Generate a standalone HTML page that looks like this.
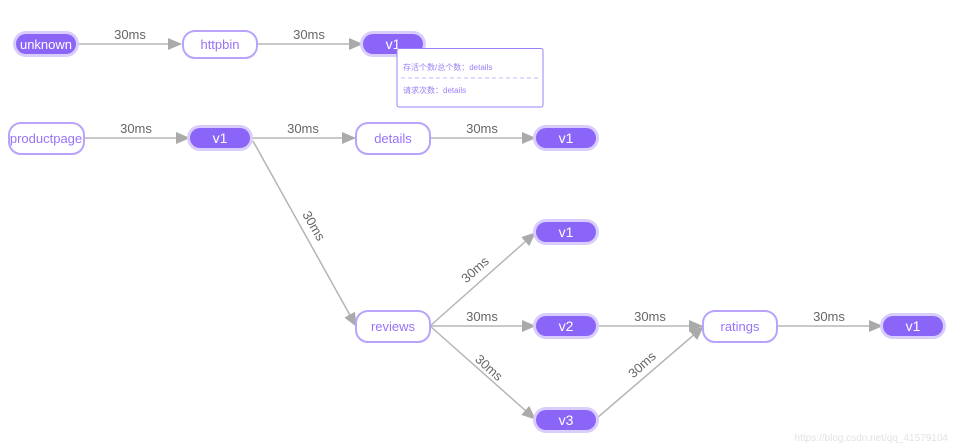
<!DOCTYPE html>
<html><head><meta charset="utf-8"><style>
html,body{margin:0;padding:0;background:#fff;width:954px;height:445px;overflow:hidden}
svg{display:block}
text{font-family:"Liberation Sans","Noto Sans CJK SC",sans-serif}
</style></head><body>
<svg width="954" height="445" viewBox="0 0 954 445" xmlns="http://www.w3.org/2000/svg">
<defs>
<marker id="a" markerWidth="14" markerHeight="12" refX="13" refY="6" orient="auto" markerUnits="userSpaceOnUse">
<path d="M0,0 L14,6 L0,12 Z" fill="#aaa"/></marker>
</defs>
<g stroke="#b5b5b5" stroke-width="1.5" fill="none" marker-end="url(#a)">
<line x1="76" y1="44" x2="181" y2="44"/>
<line x1="257" y1="44" x2="362" y2="44"/>
<line x1="84" y1="138" x2="189" y2="138"/>
<line x1="250" y1="138" x2="355" y2="138"/>
<line x1="430" y1="138" x2="535" y2="138"/>
<line x1="253" y1="141" x2="356" y2="326"/>
<line x1="430" y1="326" x2="535" y2="233"/>
<line x1="430" y1="326" x2="535" y2="326"/>
<line x1="430" y1="326" x2="535" y2="419"/>
<line x1="596" y1="326" x2="702" y2="326"/>
<line x1="597" y1="418" x2="703" y2="327"/>
<line x1="777" y1="326" x2="882" y2="326"/>
</g>
<g font-size="13" fill="#666" text-anchor="middle">
<text x="130" y="39">30ms</text>
<text x="309" y="39">30ms</text>
<text x="136" y="133">30ms</text>
<text x="303" y="133">30ms</text>
<text x="482" y="133">30ms</text>
<text x="482" y="321">30ms</text>
<text x="650" y="321">30ms</text>
<text x="829" y="321">30ms</text>
<text transform="translate(310,228) rotate(60)">30ms</text>
<text transform="translate(478,273) rotate(-42)">30ms</text>
<text transform="translate(486,371) rotate(42)">30ms</text>
<text transform="translate(645,368) rotate(-42)">30ms</text>
</g>
<g>
<g fill="#d9cdfc">
<rect x="13" y="31" width="66" height="26" rx="13"/>
<rect x="360" y="31" width="66" height="26" rx="13"/>
<rect x="187" y="125" width="66" height="26" rx="13"/>
<rect x="533" y="125" width="66" height="26" rx="13"/>
<rect x="533" y="219" width="66" height="26" rx="13"/>
<rect x="533" y="313" width="66" height="26" rx="13"/>
<rect x="533" y="407" width="66" height="26" rx="13"/>
<rect x="880" y="313" width="66" height="26" rx="13"/>
</g>
<g fill="#8a65f8">
<rect x="16" y="34" width="60" height="20" rx="10"/>
<rect x="363" y="34" width="60" height="20" rx="10"/>
<rect x="190" y="128" width="60" height="20" rx="10"/>
<rect x="536" y="128" width="60" height="20" rx="10"/>
<rect x="536" y="222" width="60" height="20" rx="10"/>
<rect x="536" y="316" width="60" height="20" rx="10"/>
<rect x="536" y="410" width="60" height="20" rx="10"/>
<rect x="883" y="316" width="60" height="20" rx="10"/>
</g>
<g fill="#fff" font-size="14" text-anchor="middle">
<text x="46" y="49" font-size="13">unknown</text>
<text x="393" y="49">v1</text>
<text x="220" y="143">v1</text>
<text x="566" y="143">v1</text>
<text x="566" y="237">v1</text>
<text x="566" y="331">v2</text>
<text x="566" y="425">v3</text>
<text x="913" y="331">v1</text>
</g>
<g fill="#fff" stroke="#b9a3fb" stroke-width="2">
<rect x="183" y="31" width="74" height="27" rx="12"/>
<rect x="9" y="123" width="75" height="31" rx="12"/>
<rect x="356" y="123" width="74" height="31" rx="12"/>
<rect x="356" y="311" width="74" height="31" rx="12"/>
<rect x="703" y="311" width="74" height="31" rx="12"/>
</g>
<g fill="#9873f8" font-size="13" text-anchor="middle">
<text x="220" y="49">httpbin</text>
<text x="46" y="143">productpage</text>
<text x="393" y="143">details</text>
<text x="393" y="331">reviews</text>
<text x="740" y="331">ratings</text>
</g>
<rect x="397" y="48.5" width="146" height="58.5" rx="2" fill="#fff" stroke="#9c80fa" stroke-width="1"/>
<line x1="401" y1="78" x2="538" y2="78" stroke="#c4b3fb" stroke-dasharray="4,3"/>
<g fill="#9d7ff8" font-size="8">
<text x="403" y="70">存活个数/总个数：details</text>
<text x="403" y="93">请求次数：details</text>
</g>
<text x="948" y="441" font-size="10" fill="#e2e2e2" text-anchor="end">https://blog.csdn.net/qq_41579104</text>
</g>
</svg>
</body></html>
